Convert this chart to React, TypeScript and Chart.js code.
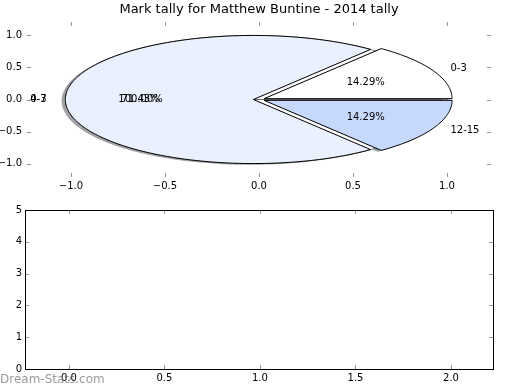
import React, { useEffect, useRef } from "react";
import { Chart, registerables } from "chart.js";

Chart.register(...registerables);

const TITLE = "Mark tally for Matthew Buntine - 2014 tally";
const WATERMARK = "Dream-Stats.com";

// main pie
const sliceLabels = ["0-3", "4-7", "12-15"];
const sliceValues = [1, 5, 1];
const sliceColors = ["#ffffff", "#eaf0fd", "#c6d9fd"];
// underlying pie (white, only its labels and edge show through)
const baseLabels = ["0-3"];
const baseValues = [7];
const baseColors = ["#ffffff"];

const pieXTicks = [-1, -0.5, 0, 0.5, 1];
const pieYTicks = [-1, -0.5, 0, 0.5, 1];
const lowerXTicks = [0, 0.5, 1, 1.5, 2];
const lowerYTicks = [0, 1, 2, 3, 4, 5];

const FONT = "DejaVu Sans";
const EXPLODE = 0.03;

const fmt = (v: number) => (v < 0 ? "\u2212" : "") + Math.abs(v).toFixed(1);

function hexToRgb(h: string) {
  const n = parseInt(h.slice(1), 16);
  return [(n >> 16) & 255, (n >> 8) & 255, n & 255];
}

const innerTicks = {
  id: "innerTicks",
  afterDraw(chart: any, _a: any, opts: any) {
    const { ctx, chartArea: a } = chart;
    const xs = chart.scales.x;
    const ys = chart.scales.y;
    ctx.save();
    ctx.strokeStyle = "#999";
    ctx.lineWidth = 1;
    const L = 4;
    ctx.beginPath();
    xs.ticks.forEach((t: any) => {
      const x = Math.round(xs.getPixelForValue(t.value)) + 0.5;
      ctx.moveTo(x, a.top);
      ctx.lineTo(x, a.top + L);
      ctx.moveTo(x, a.bottom);
      ctx.lineTo(x, a.bottom - L);
    });
    ys.ticks.forEach((t: any) => {
      const y = Math.round(ys.getPixelForValue(t.value)) + 0.5;
      ctx.moveTo(a.left, y);
      ctx.lineTo(a.left + L, y);
      ctx.moveTo(a.right, y);
      ctx.lineTo(a.right - L, y);
    });
    ctx.stroke();
    if (opts && opts.frame) {
      ctx.strokeStyle = "#000";
      ctx.strokeRect(Math.round(a.left) + 0.5, Math.round(a.top) + 0.5, Math.round(a.right - a.left), Math.round(a.bottom - a.top));
    }
    ctx.restore();
  },
};

function wedges(values: number[]) {
  const total = values.reduce((s, v) => s + v, 0);
  let acc = 0;
  return values.map((v) => {
    const t1 = (acc / total) * 360;
    acc += v;
    const t2 = (acc / total) * 360;
    const tm = ((t1 + t2) / 2) * (Math.PI / 180);
    return { t1, t2, tm, frac: v / total, cx: EXPLODE * Math.cos(tm), cy: EXPLODE * Math.sin(tm) };
  });
}

const piePlugin = {
  id: "piePlugin",
  afterDraw(chart: any) {
    const { ctx } = chart;
    const xs = chart.scales.x;
    const ys = chart.scales.y;
    const px = (v: number) => xs.getPixelForValue(v);
    const py = (v: number) => ys.getPixelForValue(v);
    const path = (cx: number, cy: number, t1: number, t2: number) => {
      ctx.beginPath();
      ctx.moveTo(px(cx), py(cy));
      const n = Math.max(2, Math.ceil((t2 - t1) / 1));
      for (let i = 0; i <= n; i++) {
        const a = ((t1 + ((t2 - t1) * i) / n) * Math.PI) / 180;
        ctx.lineTo(px(cx + Math.cos(a)), py(cy + Math.sin(a)));
      }
      ctx.closePath();
    };
    const main = { w: wedges(sliceValues), labels: sliceLabels, colors: sliceColors };
    const base = { w: wedges(baseValues), labels: baseLabels, colors: baseColors };
    ctx.save();
    // shadows of the main pie
    main.w.forEach((w, i) => {
      const [r, g, b] = hexToRgb(main.colors[i]);
      ctx.fillStyle = `rgba(${Math.round(r * 0.3)},${Math.round(g * 0.3)},${Math.round(b * 0.3)},0.5)`;
      path(w.cx - 0.02, w.cy - 0.02, w.t1, w.t2);
      ctx.fill();
    });
    // underlying pie
    base.w.forEach((w, i) => {
      ctx.fillStyle = base.colors[i];
      ctx.strokeStyle = "#666";
      ctx.lineWidth = 0.8;
      path(w.cx, w.cy, w.t1, w.t2);
      ctx.fill();
      ctx.stroke();
    });
    // main wedges
    main.w.forEach((w, i) => {
      ctx.fillStyle = main.colors[i];
      ctx.strokeStyle = "#000";
      ctx.lineWidth = 1;
      path(w.cx, w.cy, w.t1, w.t2);
      ctx.fill();
      ctx.stroke();
    });
    // texts
    ctx.fillStyle = "#000";
    ctx.font = `10px "${FONT}"`;
    ctx.textBaseline = "middle";
    [base, main].forEach((p) => {
      p.w.forEach((w, i) => {
        const lx = w.cx + 1.1 * Math.cos(w.tm);
        const ly = w.cy + 1.1 * Math.sin(w.tm);
        ctx.textAlign = lx > 0 ? "left" : "right";
        ctx.fillText(p.labels[i], px(lx), py(ly));
        const tx = w.cx + 0.6 * Math.cos(w.tm);
        const ty = w.cy + 0.6 * Math.sin(w.tm);
        ctx.textAlign = "center";
        ctx.fillText((w.frac * 100).toFixed(2) + "%", px(tx), py(ty));
      });
    });
    // title
    ctx.font = `13px "${FONT}"`;
    ctx.textAlign = "center";
    ctx.textBaseline = "middle";
    ctx.fillText(TITLE, (chart.chartArea.left + chart.chartArea.right) / 2, 10);
    ctx.restore();
  },
};

const watermark = {
  id: "watermark",
  afterDraw(chart: any) {
    const { ctx } = chart;
    ctx.save();
    ctx.font = `12px "${FONT}"`;
    ctx.fillStyle = "rgba(110,110,110,0.7)";
    ctx.textAlign = "left";
    ctx.textBaseline = "middle";
    ctx.fillText(WATERMARK, 0, 180);
    ctx.restore();
  },
};

function axis(min: number, max: number, ticks: number[], size: number, horizontal: boolean, formatter: (v: number) => string, pad: number) {
  return {
    type: "linear",
    min,
    max,
    grid: { display: false, drawTicks: false },
    border: { display: false },
    afterBuildTicks: (s: any) => {
      s.ticks = ticks.map((v) => ({ value: v }));
    },
    afterFit: (s: any) => {
      if (horizontal) s.height = size;
      else s.width = size;
    },
    ticks: {
      autoSkip: false,
      maxRotation: 0,
      padding: pad,
      color: "#000",
      font: { family: FONT, size: 10 },
      callback: (v: any) => formatter(Number(v)),
    },
  };
}

export default function App() {
  const topRef = useRef<HTMLCanvasElement>(null);
  const botRef = useRef<HTMLCanvasElement>(null);

  useEffect(() => {
    const top = new Chart(topRef.current as HTMLCanvasElement, {
      type: "scatter",
      data: { datasets: [{ data: [] }] },
      options: {
        responsive: false,
        animation: false,
        devicePixelRatio: 1,
        layout: { padding: { top: 22, right: 29, left: 0, bottom: 0 } },
        plugins: { legend: { display: false }, tooltip: { enabled: false }, innerTicks: { frame: false } } as any,
        scales: {
          x: axis(-1.234, 1.234, pieXTicks, 23, true, fmt, 3),
          y: axis(-1.21, 1.21, pieYTicks, 27, false, fmt, 5),
        } as any,
      },
      plugins: [innerTicks, piePlugin],
    });
    const bot = new Chart(botRef.current as HTMLCanvasElement, {
      type: "scatter",
      data: { datasets: [{ data: [] }] },
      options: {
        responsive: false,
        animation: false,
        devicePixelRatio: 1,
        layout: { padding: { top: 10, right: 27, left: 0, bottom: 0 } },
        plugins: { legend: { display: false }, tooltip: { enabled: false }, innerTicks: { frame: true } } as any,
        scales: {
          x: axis(-0.23, 2.22, lowerXTicks, 21, true, (v) => v.toFixed(1), 3),
          y: axis(0, 5, lowerYTicks, 25, false, (v) => String(v), 3),
        } as any,
      },
      plugins: [innerTicks, watermark],
    });
    return () => {
      top.destroy();
      bot.destroy();
    };
  }, []);

  return (
    <div style={{ position: "absolute", left: 0, top: 0, width: 520, height: 390, background: "#fff" }}>
      <canvas ref={topRef} width={520} height={200} style={{ position: "absolute", left: 0, top: 0, width: 520, height: 200 }} />
      <canvas ref={botRef} width={520} height={190} style={{ position: "absolute", left: 0, top: 200, width: 520, height: 190 }} />
    </div>
  );
}
